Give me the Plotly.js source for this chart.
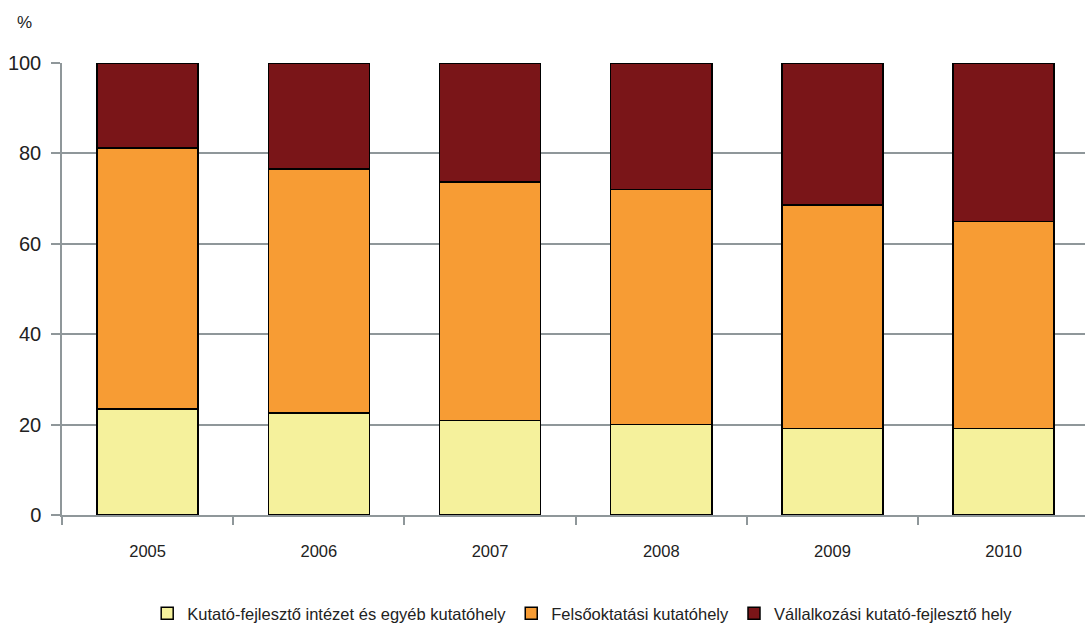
<!DOCTYPE html>
<html><head><meta charset="utf-8">
<script src="https://cdn.plot.ly/plotly-3.0.1.min.js"></script>
<style>body{margin:0;background:#fff}#c{width:1085px;height:626px}</style>
</head><body><div id="c"></div>
<script>
const years = ["2005","2006","2007","2008","2009","2010"];
const kutatoIntezet = [23.4, 22.6, 20.9, 20.0, 19.1, 19.1];
const felsooktatasi = [57.8, 53.9, 52.8, 52.0, 49.5, 45.8];
const vallalkozasi = [18.8, 23.5, 26.3, 28.0, 31.4, 35.1];
const seriesNames = ["Kutató-fejlesztő intézet és egyéb kutatóhely","Felsőoktatási kutatóhely","Vállalkozási kutató-fejlesztő hely"];
const colors = ["#f5f19c","#f79c34","#7a1518"];
const vals = [kutatoIntezet, felsooktatasi, vallalkozasi];
const data = vals.map((v,i)=>({
  type:"bar", x:years, y:v, name:seriesNames[i],
  marker:{color:colors[i], line:{color:"#000", width:1.5}},
  hoverinfo:"y"
}));
const layout = {
  barmode:"stack", bargap:0.41,
  width:1085, height:626,
  margin:{l:62, r:0, t:63, b:111, autoexpand:false},
  paper_bgcolor:"#fff", plot_bgcolor:"#fff",
  font:{family:"Liberation Sans, Arial, sans-serif", color:"#222"},
  xaxis:{type:"category", range:[-0.5,5.475], tickson:"boundaries", ticks:"outside", ticklen:8, tickcolor:"#8f979a", tickwidth:1.5,
    showline:true, linecolor:"#8f979a", linewidth:1.5, showgrid:false, ticklabelstandoff:20, automargin:false,
    tickfont:{size:16.5}},
  yaxis:{range:[0,100], dtick:20, ticks:"outside", ticklen:9, tickcolor:"#8f979a", tickwidth:1.5,
    showline:true, linecolor:"#8f979a", linewidth:1.5, gridcolor:"#8f979a", gridwidth:1.5, zeroline:false,
    ticklabelstandoff:6, automargin:false, tickfont:{size:20}},
  showlegend:true,
  legend:{orientation:"h", x:0.509, xanchor:"center", y:-0.218, yanchor:"middle",
    font:{size:16.5}, traceorder:"normal", itemwidth:30},
  annotations:[{text:"%", xref:"paper", yref:"paper", x:-0.046, y:1.09, yanchor:"middle", showarrow:false, font:{size:17}, xanchor:"left"}]
};
Plotly.newPlot("c", data, layout, {displayModeBar:false});
</script></body></html>
